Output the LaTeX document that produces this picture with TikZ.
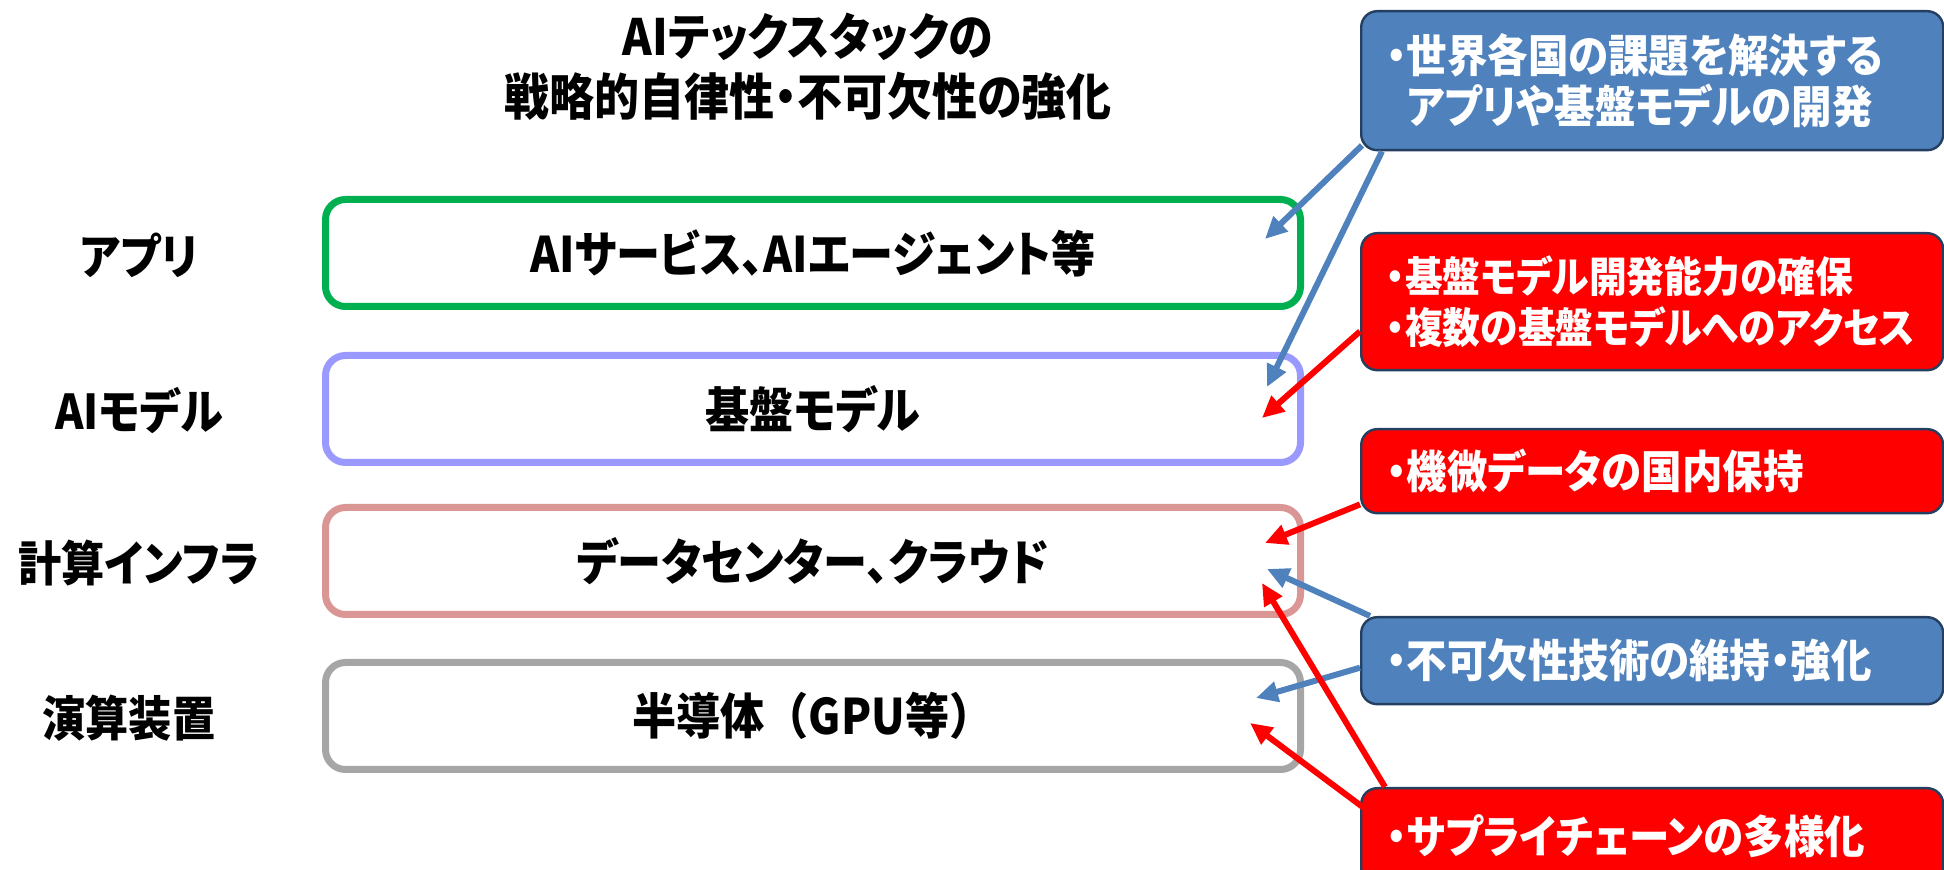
\documentclass[tikz,border=0pt]{standalone}
\usepackage{fontspec}
\setmainfont{Noto Sans CJK JP}[FakeStretch=0.9,RawFeature=+palt]
\usetikzlibrary{arrows.meta,calc}

\definecolor{appgreen}{HTML}{00B050}
\definecolor{modelblue}{HTML}{9999FF}
\definecolor{infrapink}{HTML}{D99694}
\definecolor{chipgray}{HTML}{A6A6A6}
\definecolor{calloutblue}{HTML}{4F81BD}
\definecolor{calloutred}{HTML}{FF0000}
\definecolor{calloutedge}{HTML}{243F60}

\begin{document}
\begin{tikzpicture}[x=0.5pt,y=-0.5pt,
  layer/.style={draw, line width=3.5pt, rounded corners=10pt,
    minimum width=487.5pt, minimum height=53.5pt,
    font=\bfseries\fontsize{24.5}{28}\selectfont},
  side/.style={font=\bfseries\fontsize{24}{28}\selectfont},
  callout/.style={draw=calloutedge, line width=1.2pt, rounded corners=8pt,
    anchor=north west, text=white, align=left, text width=266pt,
    inner xsep=12.5pt, minimum width=291pt,
    font=\bfseries\fontsize{22.5}{25.5}\selectfont},
  link/.style={line width=3pt, -{Triangle[length=11pt,width=10pt]}}]

  \useasboundingbox (0,0) rectangle (1944,870);

  % title
  \node[align=center, font=\bfseries\fontsize{25}{30}\selectfont] (title)
    at (808,67) {AIテックスタックの\\戦略的自律性・不可欠性の強化};

  % layers
  \node[layer, draw=appgreen] (app) at (813,253) {AIサービス、AIエージェント等};
  \node[layer, draw=modelblue] (model) at (813,409) {基盤モデル};
  \node[layer, draw=infrapink] (infra) at (813,561) {データセンター、クラウド};
  \node[layer, draw=chipgray] (chip) at (813,716)
    {\addfontfeature{RawFeature=-palt}半導体（GPU等）};

  \node[side] (lapp) at (139,255) {アプリ};
  \node[side] (lmodel) at (139,411) {AIモデル};
  \node[side] (linfra) at (139,563) {計算インフラ};
  \node[side] (lchip) at (129,718) {演算装置};

  % arrow tips
  \coordinate (tapp) at (1265,239);
  \coordinate (tmodela) at (1267,387);
  \coordinate (tmodelb) at (1262,418);
  \coordinate (tinfraa) at (1265,543);
  \coordinate (tinfrab) at (1267,569);
  \coordinate (tinfrac) at (1262,583);
  \coordinate (tchipa) at (1256,698);
  \coordinate (tchipb) at (1250,723);

  % callouts
  \node[callout, fill=calloutblue, minimum height=69.5pt] (dev) at (1360,10)
    {・世界各国の課題を解決する\\\hspace{0.45em}アプリや基盤モデルの開発};
  \node[callout, fill=calloutred, minimum height=68.5pt,
    font=\bfseries\fontsize{21}{25.5}\selectfont] (access) at (1360,232)
    {・基盤モデル開発能力の確保\\・複数の基盤モデルへのアクセス};
  \node[callout, fill=calloutred, minimum height=42pt] (data) at (1360,428)
    {・機微データの国内保持};
  \node[callout, fill=calloutblue, minimum height=43.5pt] (tech) at (1360,616)
    {・不可欠性技術の維持・強化};
  \node[callout, fill=calloutred, minimum height=48pt] (supply) at (1360,787)
    {・サプライチェーンの多様化};

  \draw[link, calloutblue] ($(dev.south west)+(2,-6)$) -- (tapp);
  \draw[link, calloutblue] ($(dev.south west)+(22,0)$) -- (tmodela);
  \draw[link, calloutred] ($(access.south west)+(0,-40)$) -- (tmodelb);
  \draw[link, calloutred] ($(data.south west)+(0,-10)$) -- (tinfraa);
  \draw[link, calloutblue] ($(tech.north west)+(10,0)$) -- (tinfrab);
  \draw[link, calloutblue] ($(tech.west)+(0,7)$) -- (tchipa);
  \draw[link, calloutred] ($(supply.north west)+(25,0)$) -- (tinfrac);
  \draw[link, calloutred] ($(supply.north west)+(4,21)$) -- (tchipb);
\end{tikzpicture}
\end{document}
